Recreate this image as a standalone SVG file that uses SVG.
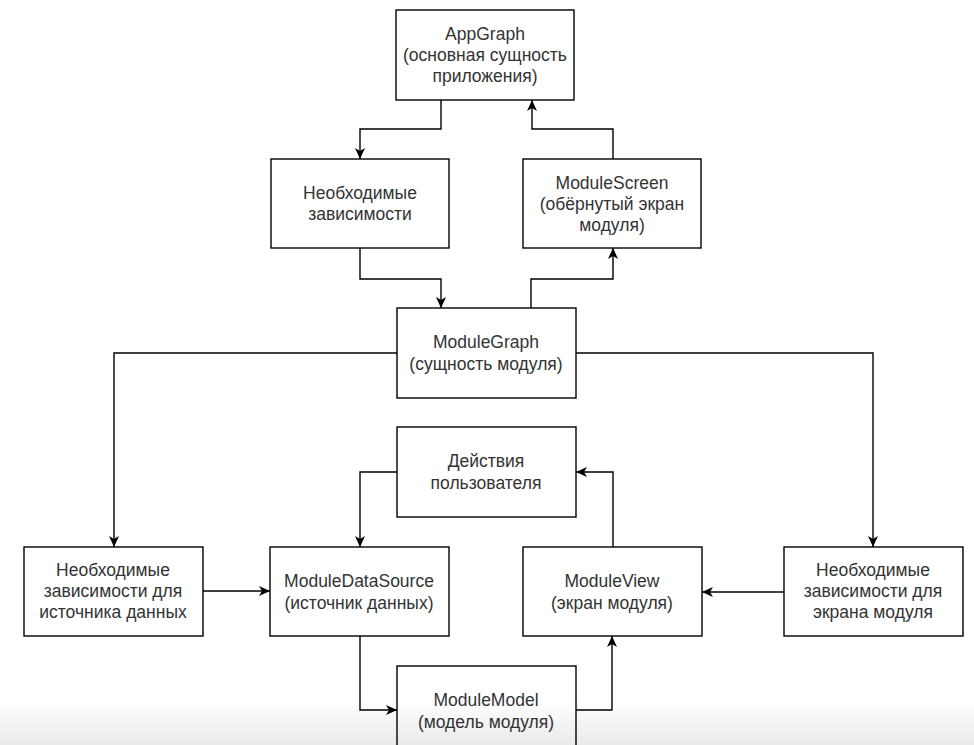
<svg xmlns="http://www.w3.org/2000/svg" width="974" height="745" viewBox="0 0 974 745">
<style>
.box{fill:none;stroke:#000;stroke-width:1.4}
.t{font-family:"Liberation Sans",Arial,sans-serif;font-size:17.5px;fill:#333;text-anchor:middle;dominant-baseline:central}
.c{fill:none;stroke:#000;stroke-width:1.4;marker-end:url(#a)}
</style>
<defs>
<marker id="a" markerUnits="userSpaceOnUse" markerWidth="12" markerHeight="10" refX="11" refY="5" orient="auto">
<path d="M0,0 L11,5 L0,10 L3,5 z" fill="#000"/>
</marker>
<linearGradient id="g" x1="0" y1="0" x2="0" y2="1">
<stop offset="0" stop-color="#fff"/>
<stop offset="1" stop-color="#e9e9e9"/>
</linearGradient>
</defs>
<rect x="0" y="0" width="974" height="745" fill="#fff"/>
<rect x="0" y="702" width="974" height="43" fill="url(#g)"/>
<g id="connectors">
<path class="c" d="M441,100 V129 H360 V159"/>
<path class="c" d="M613,159 V129 H532 V100"/>
<path class="c" d="M360,248 V279 H441 V308"/>
<path class="c" d="M531,308 V279 H613 V248"/>
<path class="c" d="M397,353 H114 V547"/>
<path class="c" d="M576,353 H873 V547"/>
<path class="c" d="M203,591 H270"/>
<path class="c" d="M784,592 H702"/>
<path class="c" d="M397,472 H360 V547"/>
<path class="c" d="M613,547 V472 H576"/>
<path class="c" d="M360,636 V710 H397"/>
<path class="c" d="M576,710 H612 V636"/>
</g>
<g id="appgraph">
<rect class="box" x="396" y="10" width="178" height="90"/>
<text class="t" x="485" y="34">AppGraph</text>
<text class="t" x="485" y="55">(основная сущность</text>
<text class="t" x="485" y="76">приложения)</text>
</g>
<g id="deps">
<rect class="box" x="271" y="159" width="178" height="89"/>
<text class="t" x="360" y="193">Необходимые</text>
<text class="t" x="360" y="214">зависимости</text>
</g>
<g id="modulescreen">
<rect class="box" x="523" y="159" width="178" height="89"/>
<text class="t" x="612" y="183">ModuleScreen</text>
<text class="t" x="612" y="204">(обёрнутый экран</text>
<text class="t" x="612" y="225">модуля)</text>
</g>
<g id="modulegraph">
<rect class="box" x="397" y="308" width="179" height="90"/>
<text class="t" x="486" y="342">ModuleGraph</text>
<text class="t" x="486" y="364">(сущность модуля)</text>
</g>
<g id="actions">
<rect class="box" x="397" y="427" width="179" height="90"/>
<text class="t" x="486" y="461">Действия</text>
<text class="t" x="486" y="483">пользователя</text>
</g>
<g id="depsdata">
<rect class="box" x="24" y="547" width="179" height="89"/>
<text class="t" x="113" y="570">Необходимые</text>
<text class="t" x="113" y="591">зависимости для</text>
<text class="t" x="113" y="612">источника данных</text>
</g>
<g id="datasource">
<rect class="box" x="270" y="547" width="179" height="89"/>
<text class="t" x="359" y="581">ModuleDataSource</text>
<text class="t" x="359" y="603">(источник данных)</text>
</g>
<g id="moduleview">
<rect class="box" x="523" y="547" width="179" height="89"/>
<text class="t" x="612" y="581">ModuleView</text>
<text class="t" x="612" y="603">(экран модуля)</text>
</g>
<g id="depsview">
<rect class="box" x="784" y="547" width="179" height="89"/>
<text class="t" x="873" y="570">Необходимые</text>
<text class="t" x="873" y="591">зависимости для</text>
<text class="t" x="873" y="612">экрана модуля</text>
</g>
<g id="modulemodel">
<rect class="box" x="397" y="666" width="179" height="90"/>
<text class="t" x="486" y="700">ModuleModel</text>
<text class="t" x="486" y="722">(модель модуля)</text>
</g>
</svg>
